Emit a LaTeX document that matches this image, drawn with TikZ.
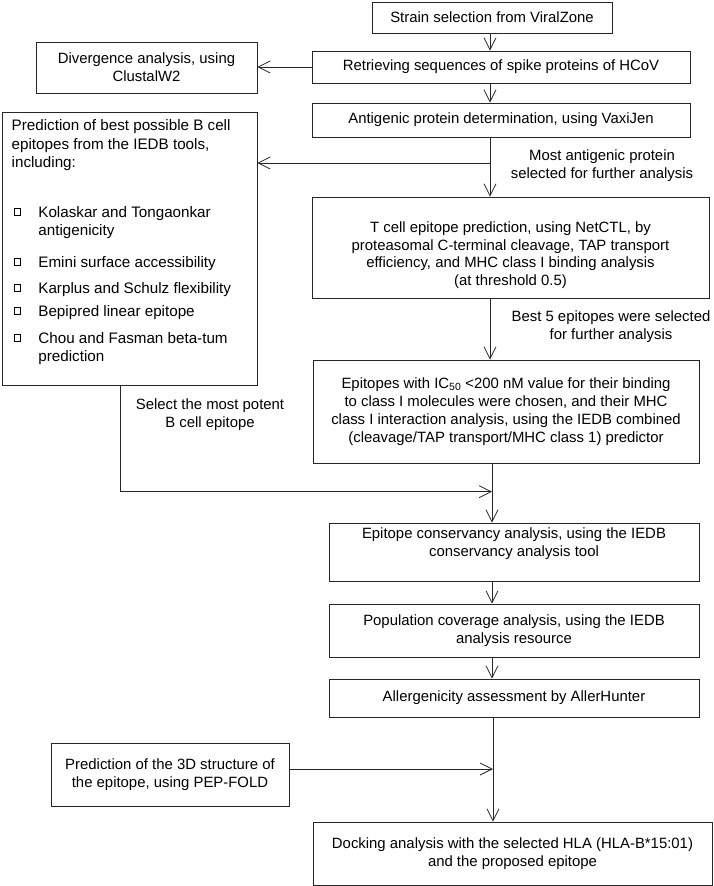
\documentclass[tikz,border=0pt]{standalone}
\usepackage{fontspec}
\setmainfont{Liberation Sans}
\usetikzlibrary{arrows.meta}
\newcommand{\diagfont}{\fontsize{14.9}{17.8}\selectfont}
\newcommand{\chkbox}{\makebox[26.7pt][l]{\hspace{2.3pt}\raisebox{2.5pt}{\framebox(6.5,6.5){}}}}
\newcommand{\chkind}{\hspace*{26.7pt}}
\begin{document}
\begin{tikzpicture}[x=1pt,y=-1pt,
  box/.style={draw=black!85, line width=0.8pt, align=center, inner sep=0pt, font=\diagfont},
  lbl/.style={align=center, font=\diagfont, inner sep=0pt},
  arr/.style={draw=black!85, line width=0.8pt, -{Straight Barb[length=12pt,width=12pt,line width=0.8pt]}},
  ln/.style={draw=black!85, line width=0.8pt}]
\useasboundingbox (0,0) rectangle (713,886);
\fill[white] (0,0) rectangle (713,886);

% boxes
\node[box, minimum width=240pt, minimum height=31pt] (strain) at (492,17.5) {Strain selection from ViralZone};
\node[box, minimum width=378pt, minimum height=32pt] (retr) at (501,67) {Retrieving sequences of spike proteins of HCoV};
\node[box, minimum width=221pt, minimum height=51pt] (div) at (146.5,67.5) {Divergence analysis, using\\ClustalW2};
\node[box, minimum width=378pt, minimum height=34pt] (anti) at (501,120) {Antigenic protein determination, using VaxiJen};
\node[box, minimum width=255pt, minimum height=273pt] (bcell) at (129.5,248.5) {};
\node[lbl, align=left, anchor=north west, font=\fontsize{15.2}{18.3}\selectfont] (btext) at (11.5,119.5) {Prediction of best possible B cell\\ epitopes from the IEDB tools,\\ including:\\[32pt]
\chkbox Kolaskar and Tongaonkar\\ \chkind antigenicity\\[13.5pt]
\chkbox Emini surface accessibility\\[7.5pt]
\chkbox Karplus and Schulz flexibility\\[5pt]
\chkbox Bepipred linear epitope\\[8.5pt]
\chkbox Chou and Fasman beta-tum\\ \chkind prediction};
\node[box, minimum width=397pt, minimum height=101pt] (tcell) at (510.5,247.5) {\raisebox{-8pt}[\height][\depth]{\begin{tabular}{@{}c@{}}T cell epitope prediction, using NetCTL, by\\proteasomal C-terminal cleavage, TAP transport\\efficiency, and MHC class I binding analysis\\(at threshold 0.5)\end{tabular}}};
\node[box, minimum width=386pt, minimum height=103pt] (epi) at (506,411.5) {Epitopes with IC\textsubscript{50} <200 nM value for their binding\\to class I molecules were chosen, and their MHC\\class I interaction analysis, using the IEDB combined\\(cleavage/TAP transport/MHC class 1) predictor};
\node[box, minimum width=370pt, minimum height=58pt] (cons) at (514,552) {\raisebox{8pt}[\height][\depth]{\begin{tabular}{@{}c@{}}Epitope conservancy analysis, using the IEDB\\conservancy analysis tool\end{tabular}}};
\node[box, minimum width=370pt, minimum height=53pt] (pop) at (514,630.5) {Population coverage analysis, using the IEDB\\analysis resource};
\node[box, minimum width=370pt, minimum height=38pt] (aller) at (514,698) {Allergenicity assessment by AllerHunter};
\node[box, minimum width=238pt, minimum height=63pt] (pep) at (170,774.5) {Prediction of the 3D structure of\\the epitope, using PEP-FOLD};
\node[box, minimum width=399pt, minimum height=63pt] (dock) at (512.5,853.5) {Docking analysis with the selected HLA (HLA-B*15:01)\\and the proposed epitope};

% labels
\node[lbl] (lab1) at (602,166) {Most antigenic protein\\selected for further analysis};
\node[lbl] (lab2) at (611,327) {Best 5 epitopes were selected\\for further analysis};
\node[lbl] (lab3) at (210,415) {Select the most potent\\B cell epitope};

% coordinates of the main line
\coordinate (m1) at (490,0);
\coordinate (m2) at (492,0);
\coordinate (m3) at (493,0);
\coordinate (br1) at (490,163);
\coordinate (bc) at (120,0);
\coordinate (mg) at (492,491.7);
\coordinate (pp) at (493,769);

% connectors
\draw[arr] (strain.south -| m1) -- (retr.north -| m1);
\draw[arr] (retr.west) -- (retr.west -| div.east);
\draw[arr] (retr.south -| m1) -- (anti.north -| m1);
\draw[arr] (anti.south -| m1) -- (tcell.north -| m1);
\draw[arr] (br1) -- (bcell.east |- br1);
\draw[arr] (tcell.south -| m1) -- (epi.north -| m1);
\draw[arr] (bcell.south -| bc) |- (mg);
\draw[arr] (epi.south -| m2) -- (cons.north -| m2);
\draw[arr] (cons.south -| m2) -- (pop.north -| m2);
\draw[arr] (pop.south -| m2) -- (aller.north -| m2);
\draw[arr] (aller.south -| m3) -- (dock.north -| m3);
\draw[arr] (pep.east |- pp) -- (pp);
\end{tikzpicture}
\end{document}
